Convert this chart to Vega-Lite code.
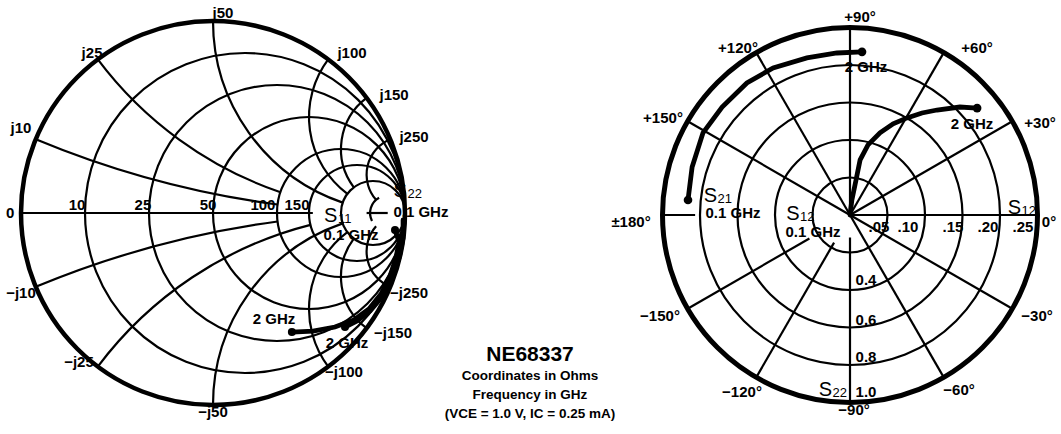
{
  "$schema": "https://vega.github.io/schema/vega-lite/v6.json",
  "padding": 0,
  "spacing": 0,
  "bounds": "flush",
  "background": "white",
  "config": {"view": {"stroke": null}},
  "datasets": {
    "smithGrid": [
      {"x": 0.16667, "y": 0, "rad": 0.83333, "t1": 0, "t2": 360},
      {"x": 0.33333, "y": 0, "rad": 0.66667, "t1": 0, "t2": 360},
      {"x": 0.5, "y": 0, "rad": 0.5, "t1": 0, "t2": 360},
      {"x": 0.66667, "y": 0, "rad": 0.33333, "t1": 0, "t2": 360},
      {"x": 0.75, "y": 0, "rad": 0.25, "t1": 0, "t2": 360},
      {"x": 0.83333, "y": 0, "rad": 0.16667, "t1": 0, "t2": 360},
      {"x": 0.90909, "y": 0, "rad": 0.090909, "t1": 243, "t2": 331},
      {"x": 1, "y": 5, "rad": 5, "t1": 187.63, "t2": 202.62},
      {"x": 1, "y": 2, "rad": 2, "t1": 198.92, "t2": 233.13},
      {"x": 1, "y": 1, "rad": 1, "t1": 198.92, "t2": 270},
      {"x": 1, "y": 0.5, "rad": 0.5, "t1": 216.87, "t2": 306.87},
      {"x": 1, "y": 0.33333, "rad": 0.33333, "t1": 233.13, "t2": 323.13},
      {"x": 1, "y": 0.2, "rad": 0.2, "t1": 228.89, "t2": 337.38},
      {"x": 1, "y": -5, "rad": 5, "t1": -22.62, "t2": -7.63},
      {"x": 1, "y": -2, "rad": 2, "t1": -53.13, "t2": -14.25},
      {"x": 1, "y": -1, "rad": 1, "t1": -90, "t2": -18.92},
      {"x": 1, "y": -0.5, "rad": 0.5, "t1": -126.87, "t2": -36.87},
      {"x": 1, "y": -0.33333, "rad": 0.33333, "t1": -143.13, "t2": -53.13},
      {"x": 1, "y": -0.2, "rad": 0.2, "t1": -157.38, "t2": -48.89}
    ],
    "smithOuter": [{"x": 0, "y": 0, "rad": 1, "t1": 0, "t2": 360}],
    "smithAxis": [
      {"x": -1, "y": 0, "x2": 0.52, "y2": 0},
      {"x": 0.8, "y": 0, "x2": 0.91, "y2": 0}
    ],
    "smithTraces": [
      {"s": "S11", "i": 0, "x": 0.948, "y": -0.089},
      {"s": "S11", "i": 1, "x": 0.969, "y": -0.151},
      {"s": "S11", "i": 2, "x": 0.953, "y": -0.234},
      {"s": "S11", "i": 3, "x": 0.922, "y": -0.328},
      {"s": "S11", "i": 4, "x": 0.875, "y": -0.422},
      {"s": "S11", "i": 5, "x": 0.8125, "y": -0.5},
      {"s": "S11", "i": 6, "x": 0.734, "y": -0.557},
      {"s": "S11", "i": 7, "x": 0.635, "y": -0.594},
      {"s": "S11", "i": 8, "x": 0.521, "y": -0.615},
      {"s": "S11", "i": 9, "x": 0.411, "y": -0.62},
      {"s": "S22", "i": 0, "x": 0.99, "y": -0.036},
      {"s": "S22", "i": 1, "x": 0.99, "y": -0.13},
      {"s": "S22", "i": 2, "x": 0.969, "y": -0.234},
      {"s": "S22", "i": 3, "x": 0.932, "y": -0.339},
      {"s": "S22", "i": 4, "x": 0.88, "y": -0.4375},
      {"s": "S22", "i": 5, "x": 0.818, "y": -0.51},
      {"s": "S22", "i": 6, "x": 0.75, "y": -0.5625},
      {"s": "S22", "i": 7, "x": 0.6875, "y": -0.594}
    ],
    "smithDots": [
      {"x": 0.948, "y": -0.089},
      {"x": 0.411, "y": -0.62},
      {"x": 0.6875, "y": -0.594}
    ],
    "smithLabels": [
      {"x": -1.057, "y": 0, "t": "0"},
      {"x": -0.708, "y": 0.042, "t": "10"},
      {"x": -0.365, "y": 0.042, "t": "25"},
      {"x": -0.026, "y": 0.042, "t": "50"},
      {"x": 0.26, "y": 0.042, "t": "100"},
      {"x": 0.4375, "y": 0.042, "t": "150"},
      {"x": -1.0, "y": 0.443, "t": "j10"},
      {"x": -0.63, "y": 0.833, "t": "j25"},
      {"x": 0.052, "y": 1.042, "t": "j50"},
      {"x": 0.724, "y": 0.833, "t": "j100"},
      {"x": 0.943, "y": 0.615, "t": "j150"},
      {"x": 1.047, "y": 0.396, "t": "j250"},
      {"x": -1.0, "y": -0.417, "t": "−j10"},
      {"x": -0.698, "y": -0.776, "t": "−j25"},
      {"x": 0.0, "y": -1.036, "t": "−j50"},
      {"x": 0.682, "y": -0.828, "t": "−j100"},
      {"x": 0.9375, "y": -0.625, "t": "−j150"},
      {"x": 1.021, "y": -0.417, "t": "−j250"},
      {"x": 0.719, "y": -0.112, "t": "0.1 GHz"},
      {"x": 1.083, "y": 0.005, "t": "0.1 GHz"},
      {"x": 0.318, "y": -0.552, "t": "2 GHz"},
      {"x": 0.698, "y": -0.677, "t": "2 GHz"}
    ],
    "smithS": [
      {"x": 0.648, "y": -0.018, "sub": "11"},
      {"x": 1.01, "y": 0.112, "sub": "22"}
    ],
    "caption": [
      {"x": 1.651, "y": -0.849, "t": "Coordinates in Ohms"},
      {"x": 1.651, "y": -0.948, "t": "Frequency in GHz"},
      {"x": 1.651, "y": -1.047, "t": "(VCE = 1.0 V, IC = 0.25 mA)"}
    ],
    "captionTitle": [{"x": 1.651, "y": -0.742, "t": "NE68337"}],
    "polarRings": [
      {"x": 0, "y": 0, "rad": 1, "t1": 0, "t2": 360},
      {"x": 0, "y": 0, "rad": 2, "t1": 0, "t2": 360},
      {"x": 0, "y": 0, "rad": 3, "t1": 0, "t2": 360},
      {"x": 0, "y": 0, "rad": 4, "t1": 0, "t2": 360}
    ],
    "polarOuter": [{"x": 0, "y": 0, "rad": 5, "t1": 0, "t2": 360}],
    "polarSpokes": [
      {"x": 0, "y": 0, "x2": 5, "y2": 0},
      {"x": 0, "y": 0, "x2": 4.33, "y2": 2.5},
      {"x": 0, "y": 0, "x2": 2.5, "y2": 4.33},
      {"x": 0, "y": 0, "x2": 0, "y2": 5},
      {"x": 0, "y": 0, "x2": -2.5, "y2": 4.33},
      {"x": 0, "y": 0, "x2": -4.33, "y2": 2.5},
      {"x": -4.13, "y": 0, "x2": -5, "y2": 0},
      {"x": -1.083, "y": -0.625, "x2": -4.33, "y2": -2.5},
      {"x": -0.425, "y": -0.736, "x2": -2.5, "y2": -4.33},
      {"x": 0, "y": -0.6, "x2": 0, "y2": -5},
      {"x": 0, "y": 0, "x2": 2.5, "y2": -4.33},
      {"x": 0, "y": 0, "x2": 4.33, "y2": -2.5}
    ],
    "polarTraces": [
      {"s": "S21", "i": 0, "x": -4.32, "y": 0.4},
      {"s": "S21", "i": 1, "x": -4.21, "y": 1.28},
      {"s": "S21", "i": 2, "x": -3.92, "y": 2.19},
      {"s": "S21", "i": 3, "x": -3.41, "y": 2.88},
      {"s": "S21", "i": 4, "x": -2.75, "y": 3.52},
      {"s": "S21", "i": 5, "x": -2.05, "y": 3.92},
      {"s": "S21", "i": 6, "x": -1.15, "y": 4.19},
      {"s": "S21", "i": 7, "x": -0.35, "y": 4.32},
      {"s": "S21", "i": 8, "x": 0.32, "y": 4.35},
      {"s": "S12", "i": 0, "x": 0, "y": 0},
      {"s": "S12", "i": 1, "x": 0.05, "y": 0.4},
      {"s": "S12", "i": 2, "x": 0.16, "y": 0.93},
      {"s": "S12", "i": 3, "x": 0.27, "y": 1.47},
      {"s": "S12", "i": 4, "x": 0.48, "y": 1.87},
      {"s": "S12", "i": 5, "x": 0.8, "y": 2.19},
      {"s": "S12", "i": 6, "x": 1.15, "y": 2.43},
      {"s": "S12", "i": 7, "x": 1.52, "y": 2.59},
      {"s": "S12", "i": 8, "x": 1.92, "y": 2.72},
      {"s": "S12", "i": 9, "x": 2.32, "y": 2.8},
      {"s": "S12", "i": 10, "x": 2.93, "y": 2.88},
      {"s": "S12", "i": 11, "x": 3.39, "y": 2.85}
    ],
    "polarDots": [
      {"x": -4.32, "y": 0.4},
      {"x": 0.32, "y": 4.35},
      {"x": 3.39, "y": 2.85}
    ],
    "polarLabels": [
      {"x": 0.267, "y": 5.28, "t": "+90°"},
      {"x": -2.987, "y": 4.453, "t": "+120°"},
      {"x": 3.387, "y": 4.453, "t": "+60°"},
      {"x": -4.987, "y": 2.587, "t": "+150°"},
      {"x": 5.067, "y": 2.453, "t": "+30°"},
      {"x": -5.84, "y": -0.187, "t": "±180°"},
      {"x": 5.307, "y": -0.187, "t": "0°"},
      {"x": -5.067, "y": -2.693, "t": "−150°"},
      {"x": 4.987, "y": -2.693, "t": "−30°"},
      {"x": -2.88, "y": -4.72, "t": "−120°"},
      {"x": 2.907, "y": -4.667, "t": "−60°"},
      {"x": 0.107, "y": -5.2, "t": "−90°"},
      {"x": 0.427, "y": 3.947, "t": "2 GHz"},
      {"x": 3.253, "y": 2.427, "t": "2 GHz"},
      {"x": -3.12, "y": 0.05, "t": "0.1 GHz"},
      {"x": -0.987, "y": -0.46, "t": "0.1 GHz"},
      {"x": 0.773, "y": -0.32, "t": ".05"},
      {"x": 1.547, "y": -0.32, "t": ".10"},
      {"x": 2.747, "y": -0.32, "t": ".15"},
      {"x": 3.68, "y": -0.32, "t": ".20"},
      {"x": 4.613, "y": -0.32, "t": ".25"},
      {"x": 0.427, "y": -1.733, "t": "0.4"},
      {"x": 0.427, "y": -2.8, "t": "0.6"},
      {"x": 0.427, "y": -3.787, "t": "0.8"},
      {"x": 0.427, "y": -4.72, "t": "1.0"}
    ],
    "polarS": [
      {"x": -3.547, "y": 0.52, "sub": "21"},
      {"x": -1.347, "y": 0.04, "sub": "12"},
      {"x": 4.56, "y": 0.2, "sub": "12"},
      {"x": -0.48, "y": -4.667, "sub": "22"}
    ]
  },
  "hconcat": [
    {
      "width": 620,
      "height": 434,
      "encoding": {
        "x": {"field": "x", "type": "quantitative", "scale": {"domain": [-1.109375, 2.119792], "nice": false, "zero": false}, "axis": null},
        "y": {"field": "y", "type": "quantitative", "scale": {"domain": [-1.151042, 1.109375], "nice": false, "zero": false}, "axis": null}
      },
      "layer": [
        {
          "data": {"name": "smithGrid"},
          "mark": {"type": "arc", "filled": false, "stroke": "black", "strokeWidth": 2.2},
          "encoding": {
            "radius": {"field": "rad", "type": "quantitative", "scale": {"type": "linear", "domain": [0, 1], "range": [0, 192], "zero": true, "nice": false}},
            "radius2": {"field": "rad"},
            "theta": {"field": "t1", "type": "quantitative", "stack": null, "scale": {"type": "linear", "domain": [0, 360], "range": [0, 6.283185307179586], "zero": true, "nice": false}},
            "theta2": {"field": "t2"}
          }
        },
        {
          "data": {"name": "smithOuter"},
          "mark": {"type": "arc", "filled": false, "stroke": "black", "strokeWidth": 4.5},
          "encoding": {
            "radius": {"field": "rad", "type": "quantitative"},
            "radius2": {"field": "rad"},
            "theta": {"field": "t1", "type": "quantitative", "stack": null},
            "theta2": {"field": "t2"}
          }
        },
        {
          "data": {"name": "smithAxis"},
          "mark": {"type": "rule", "stroke": "black", "strokeWidth": 2.2},
          "encoding": {"x2": {"field": "x2"}, "y2": {"field": "y2"}}
        },
        {
          "data": {"name": "smithTraces"},
          "mark": {"type": "line", "stroke": "black", "strokeWidth": 4.8, "strokeCap": "round"},
          "encoding": {"detail": {"field": "s"}, "order": {"field": "i", "type": "quantitative"}}
        },
        {
          "data": {"name": "smithDots"},
          "mark": {"type": "point", "filled": true, "fill": "black", "stroke": null, "size": 65, "opacity": 1},
          "encoding": {}
        },
        {
          "data": {"name": "smithLabels"},
          "mark": {"type": "text", "font": "Liberation Sans", "fontWeight": "bold", "fontSize": 15, "fill": "black", "align": "center", "baseline": "middle"},
          "encoding": {"text": {"field": "t"}}
        },
        {
          "data": {"name": "smithS"},
          "mark": {"type": "text", "font": "Liberation Sans", "fontSize": 20, "fill": "black", "align": "right", "baseline": "middle"},
          "encoding": {"text": {"value": "S"}}
        },
        {
          "data": {"name": "smithS"},
          "mark": {"type": "text", "font": "Liberation Sans", "fontSize": 13, "fill": "black", "align": "left", "baseline": "middle", "dy": 3, "dx": 0.5},
          "encoding": {"text": {"field": "sub"}}
        },
        {
          "data": {"name": "captionTitle"},
          "mark": {"type": "text", "font": "Liberation Sans", "fontWeight": "bold", "fontSize": 21, "fill": "black", "align": "center", "baseline": "middle"},
          "encoding": {"text": {"field": "t"}}
        },
        {
          "data": {"name": "caption"},
          "mark": {"type": "text", "font": "Liberation Sans", "fontWeight": "bold", "fontSize": 13.5, "fill": "black", "align": "center", "baseline": "middle"},
          "encoding": {"text": {"field": "t"}}
        }
      ]
    },
    {
      "width": 441,
      "height": 434,
      "encoding": {
        "x": {"field": "x", "type": "quantitative", "scale": {"domain": [-6.133333, 5.626667], "nice": false, "zero": false}, "axis": null},
        "y": {"field": "y", "type": "quantitative", "scale": {"domain": [-5.84, 5.733333], "nice": false, "zero": false}, "axis": null}
      },
      "layer": [
        {
          "data": {"name": "polarRings"},
          "mark": {"type": "arc", "filled": false, "stroke": "black", "strokeWidth": 2.2},
          "encoding": {
            "radius": {"field": "rad", "type": "quantitative", "scale": {"type": "linear", "domain": [0, 5], "range": [0, 187.5], "zero": true, "nice": false}},
            "radius2": {"field": "rad"},
            "theta": {"field": "t1", "type": "quantitative", "stack": null, "scale": {"type": "linear", "domain": [0, 360], "range": [0, 6.283185307179586], "zero": true, "nice": false}},
            "theta2": {"field": "t2"}
          }
        },
        {
          "data": {"name": "polarOuter"},
          "mark": {"type": "arc", "filled": false, "stroke": "black", "strokeWidth": 5},
          "encoding": {
            "radius": {"field": "rad", "type": "quantitative"},
            "radius2": {"field": "rad"},
            "theta": {"field": "t1", "type": "quantitative", "stack": null},
            "theta2": {"field": "t2"}
          }
        },
        {
          "data": {"name": "polarSpokes"},
          "mark": {"type": "rule", "stroke": "black", "strokeWidth": 2.2},
          "encoding": {"x2": {"field": "x2"}, "y2": {"field": "y2"}}
        },
        {
          "data": {"name": "polarTraces"},
          "mark": {"type": "line", "stroke": "black", "strokeWidth": 4.8, "strokeCap": "round"},
          "encoding": {"detail": {"field": "s"}, "order": {"field": "i", "type": "quantitative"}}
        },
        {
          "data": {"name": "polarDots"},
          "mark": {"type": "point", "filled": true, "fill": "black", "stroke": null, "size": 75, "opacity": 1},
          "encoding": {}
        },
        {
          "data": {"name": "polarLabels"},
          "mark": {"type": "text", "font": "Liberation Sans", "fontWeight": "bold", "fontSize": 15, "fill": "black", "align": "center", "baseline": "middle"},
          "encoding": {"text": {"field": "t"}}
        },
        {
          "data": {"name": "polarS"},
          "mark": {"type": "text", "font": "Liberation Sans", "fontSize": 20, "fill": "black", "align": "right", "baseline": "middle"},
          "encoding": {"text": {"value": "S"}}
        },
        {
          "data": {"name": "polarS"},
          "mark": {"type": "text", "font": "Liberation Sans", "fontSize": 13, "fill": "black", "align": "left", "baseline": "middle", "dy": 3, "dx": 0.5},
          "encoding": {"text": {"field": "sub"}}
        }
      ]
    }
  ]
}
